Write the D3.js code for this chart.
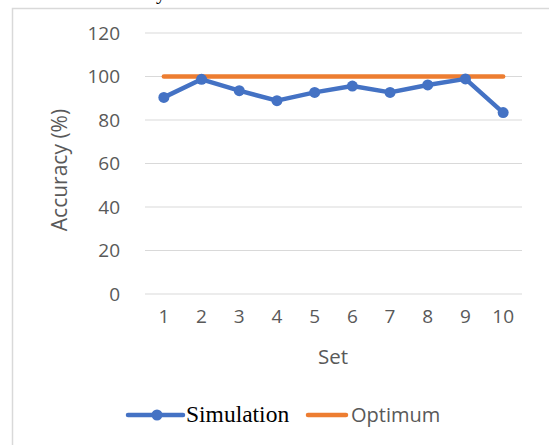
<!DOCTYPE html>
<html><head><meta charset="utf-8">
<script src="https://cdn.jsdelivr.net/npm/d3@7"></script>
<style>body{margin:0;background:#fff;}svg{display:block;}</style>
</head><body>
<svg id="chart" width="549" height="445"></svg>
<script>
const categories = ["1","2","3","4","5","6","7","8","9","10"];
const simulation = [90.4, 98.7, 93.5, 88.9, 92.7, 95.6, 92.7, 96.1, 98.9, 83.4];
const optimum = [100,100,100,100,100,100,100,100,100,100];
const yTicks = [0,20,40,60,80,100,120];

const svg = d3.select("#chart");
const pLeft = 145, pRight = 522, pTop = 33, pBottom = 294;
const x = d3.scaleBand().domain(categories).range([pLeft, pRight]);
const y = d3.scaleLinear().domain([0,120]).range([pBottom, pTop]);
const cx = d => x(d) + x.bandwidth()/2;

// cropped title fragment
svg.append("text").attr("x",156).attr("y",-1).attr("font-family","Liberation Serif")
  .attr("font-size",20).attr("fill","#000").text("y");

// border
svg.append("path").attr("d","M12.5,445 L12.5,8.5 L549,8.5").attr("fill","none")
  .attr("stroke","#d9d9d9").attr("stroke-width",1.5);

// gridlines
svg.append("g").selectAll("line").data(yTicks).join("line")
  .attr("x1",pLeft).attr("x2",pRight).attr("y1",d=>y(d)).attr("y2",d=>y(d))
  .attr("stroke","#d9d9d9").attr("stroke-width",1);

const font = "'Open Sans', sans-serif";
// y axis labels
const yAxis = svg.append("g").attr("transform",`translate(${pLeft},0)`)
  .call(d3.axisLeft(y).tickValues(yTicks).tickSize(0).tickPadding(25));
yAxis.select(".domain").remove();
yAxis.selectAll("text").attr("font-family",font).attr("font-size",19).attr("fill","#595959");

// x axis labels
const xAxis = svg.append("g").attr("transform",`translate(0,${pBottom})`)
  .call(d3.axisBottom(x).tickSize(0).tickPadding(16));
xAxis.select(".domain").remove();
xAxis.selectAll("text").attr("font-family",font).attr("font-size",19).attr("fill","#595959");

// axis titles
svg.append("text").attr("transform","translate(67,170) rotate(-90)").attr("text-anchor","middle")
  .attr("font-family",font).attr("font-size",21).attr("fill","#595959").text("Accuracy (%)");
svg.append("text").attr("x",333).attr("y",364).attr("text-anchor","middle")
  .attr("font-family",font).attr("font-size",20.5).attr("fill","#595959").text("Set");

// optimum line
const line = d3.line().x((d,i)=>cx(categories[i])).y(d=>y(d));
svg.append("path").datum(optimum).attr("d",line).attr("fill","none")
  .attr("stroke","#ed7d31").attr("stroke-width",4.5).attr("stroke-linecap","round");

// simulation
svg.append("path").datum(simulation).attr("d",line).attr("fill","none")
  .attr("stroke","#4472c4").attr("stroke-width",4.5).attr("stroke-linejoin","round").attr("stroke-linecap","round");
svg.append("g").selectAll("circle").data(simulation).join("circle")
  .attr("cx",(d,i)=>cx(categories[i])).attr("cy",d=>y(d)).attr("r",5.5).attr("fill","#4472c4");

// legend
const ly = 415;
svg.append("line").attr("x1",128).attr("x2",183).attr("y1",ly).attr("y2",ly)
  .attr("stroke","#4472c4").attr("stroke-width",4.5).attr("stroke-linecap","round");
svg.append("circle").attr("cx",157).attr("cy",ly).attr("r",5.5).attr("fill","#4472c4");
svg.append("text").attr("x",186).attr("y",ly+7).attr("font-family","'Liberation Serif', serif")
  .attr("font-size",23.5).attr("fill","#000").text("Simulation");
svg.append("line").attr("x1",308).attr("x2",346).attr("y1",ly).attr("y2",ly)
  .attr("stroke","#ed7d31").attr("stroke-width",4.5).attr("stroke-linecap","round");
svg.append("text").attr("x",351).attr("y",ly+7).attr("font-family",font)
  .attr("font-size",20).attr("fill","#595959").text("Optimum");
</script>
</body></html>
